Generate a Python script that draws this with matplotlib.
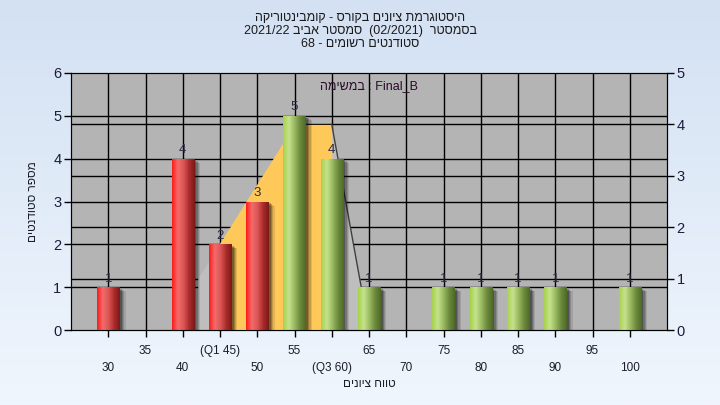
import numpy as np
import matplotlib
matplotlib.use("Agg")
import matplotlib.pyplot as plt
import matplotlib.patheffects as pe
from matplotlib.colors import LinearSegmentedColormap

plt.rcParams['font.family'] = ['Liberation Sans', 'DejaVu Sans']

# ---------------------------------------------------------------------
# DATA
# ---------------------------------------------------------------------
grades = [30, 40, 45, 50, 55, 60, 65, 75, 80, 85, 90, 100]
counts = [1, 4, 2, 3, 5, 4, 1, 1, 1, 1, 1, 1]
fail_limit = 50          # bars up to here are red, above are green

tick_pos = list(range(30, 105, 5))
tick_labels = ["30", "35", "40", "(Q1 45)", "50", "55", "(Q3 60)", "65",
               "70", "75", "80", "85", "90", "95", "100"]

# curve on the right axis (0-5)
iqr_x = [45, 50, 55, 60]
iqr_y = [1.7, 2.85, 4.0, 4.0]
curve_x = [42, 45, 60, 64]
curve_y = [1.0, 1.7, 4.0, 0.8]
edge_x = [60, 64]
edge_y = [4.0, 0.8]


# matplotlib draws left-to-right, so hebrew runs are reversed by hand
def rev(s):
    return s[::-1]


title_lines = [rev("היסטוגרמת ציונים בקורס - קומבינטוריקה"),
               "2021/22 " + rev("סמסטר אביב") + "  (02/2021)  " + rev("בסמסטר"),
               "68 - " + rev("סטודנטים רשומים")]
legend_text = rev("במשימה") + " : Final_B"
xlabel = rev("טווח ציונים")
ylabel = rev("מספר סטודנטים")

# ---------------------------------------------------------------------
# FIGURE
# ---------------------------------------------------------------------
fig = plt.figure(figsize=(7.2, 4.05), dpi=100)

# background gradient
bg = fig.add_axes([0, 0, 1, 1], zorder=-10)
bg_cmap = LinearSegmentedColormap.from_list("bg", ["#d3e1f3", "#f0f6fd"])
bg.imshow(np.linspace(0, 1, 256).reshape(-1, 1), aspect='auto', cmap=bg_cmap,
          extent=(0, 1, 0, 1))
bg.axis('off')

ax = fig.add_axes([71 / 720, 1 - 330 / 405, (667 - 71) / 720, (330 - 73) / 405])
ax2 = ax.twinx()
ax.set_facecolor('#b4b4b4')
ax.set_xlim(25, 105)
ax.set_ylim(0, 6)
ax2.set_ylim(0, 5)
scale = ax.get_ylim()[1] / ax2.get_ylim()[1]

# grid: left ticks and right ticks
for v in range(1, 6):
    ax.axhline(v, color='black', lw=1, zorder=1)
for v in range(1, 5):
    ax.axhline(v * scale, color='black', lw=1, zorder=1)
for x in tick_pos:
    ax.axvline(x, color='black', lw=1, zorder=1)

# curve areas
ax.fill_between(curve_x, 0, np.array(curve_y) * scale, color='#bebebe', lw=0, zorder=2)
ax.fill_between(iqr_x, 0, np.array(iqr_y) * scale, color='#ffc95a', lw=0, zorder=3)
ax.plot(edge_x, np.array(edge_y) * scale, color='#404040', lw=1, zorder=3)

# bars with cylinder gradient
red_cmap = LinearSegmentedColormap.from_list(
    "red", ["#ff1a1a", "#f26c6c", "#dc5656", "#ab2c2c", "#7c1818"])
green_cmap = LinearSegmentedColormap.from_list(
    "green", ["#a6d24a", "#c6e28e", "#9aba62", "#6c8a3c", "#4e6a28"])
grad = np.linspace(0, 1, 64).reshape(1, -1)

shadow = [pe.SimplePatchShadow(offset=(4.5, -3.0), shadow_rgbFace='black', alpha=0.10),
          pe.SimplePatchShadow(offset=(3.6, -2.4), shadow_rgbFace='black', alpha=0.14),
          pe.SimplePatchShadow(offset=(2.7, -1.8), shadow_rgbFace='black', alpha=0.20),
          pe.SimplePatchShadow(offset=(1.8, -1.2), shadow_rgbFace='black', alpha=0.25),
          pe.Normal()]

bars = ax.bar(grades, counts, width=3, facecolor='#888888', edgecolor='none',
              zorder=4, path_effects=shadow)
for g, c, b in zip(grades, counts, bars):
    cmap = red_cmap if g <= fail_limit else green_cmap
    x0 = b.get_x()
    im = ax.imshow(grad, aspect='auto', cmap=cmap, zorder=5,
                   extent=(x0, x0 + b.get_width(), 0, c))
    im.set_clip_path(b)
    ax.text(g, c + 0.06, str(c), ha='center', va='bottom', fontsize=9.5,
            color='#2b2b45', zorder=6)

ax.set_xlim(25, 105)
ax.set_ylim(0, 6)

# axes and ticks
for s in ['left', 'right', 'top', 'bottom']:
    ax.spines[s].set_color('black')
    ax2.spines[s].set_color('black')
ax.set_yticks(range(0, 7))
ax2.set_yticks(range(0, 6))
ax.tick_params(axis='y', length=5, width=1, labelsize=10.5, colors='black',
               labelcolor='#1c1c3a', pad=2)
ax2.tick_params(axis='y', length=5, width=1, labelsize=10.5, colors='black',
                labelcolor='#1c1c3a', pad=2)

ax.set_xticks(tick_pos)
ax.set_xticklabels([lab if i % 2 else "\n" + lab for i, lab in enumerate(tick_labels)])
ax.tick_params(axis='x', length=5, width=1, labelsize=8.5, labelcolor='#1c1c2a', pad=6)
for t in ax.get_xticklabels():
    t.set_linespacing(1.5)

ax.set_ylabel(ylabel, fontsize=8.5, color='#1c1c2a', labelpad=10)
ax.set_xlabel(xlabel, fontsize=8.5, color='#1c1c2a', labelpad=3)

ax.text(0.5, 0.95, legend_text, transform=ax.transAxes, ha='center', va='center',
        fontsize=9, color='#2a0a2a', zorder=7)

for i, line in enumerate(title_lines):
    fig.text(0.5, 1 - (18 + 13 * i) / 405, line, ha='center', va='center',
             fontsize=9, color='#1a1a1a')

fig.savefig("out.png", dpi=100)
